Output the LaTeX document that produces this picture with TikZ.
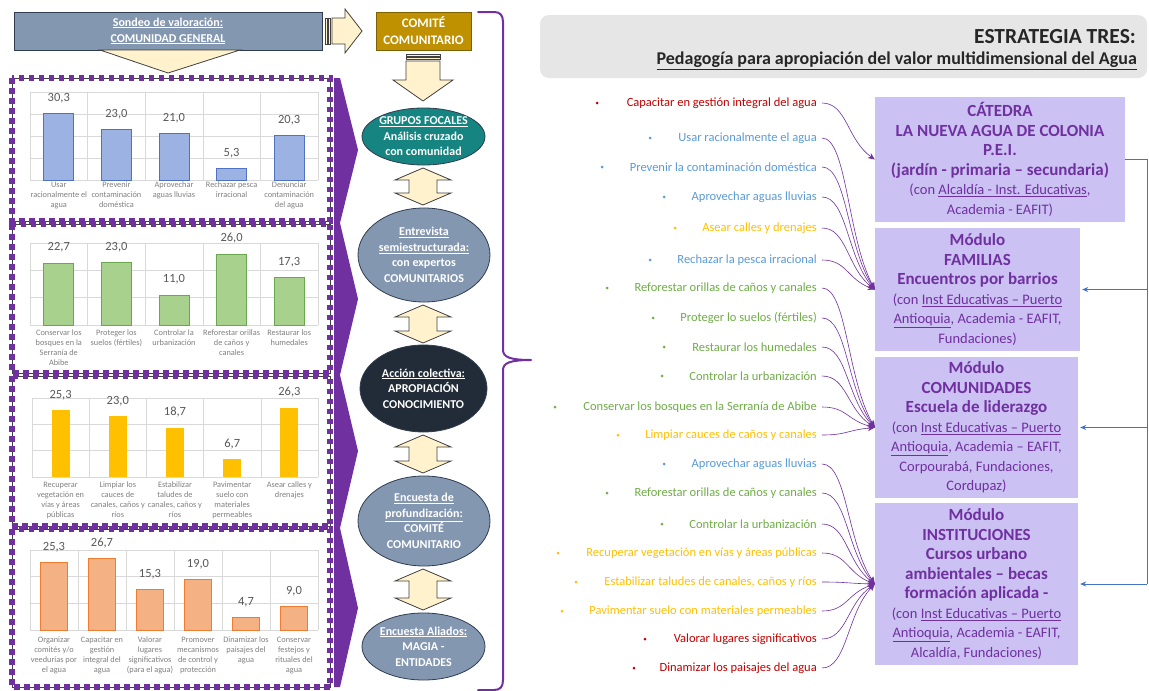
\documentclass[tikz,border=0pt]{standalone}
\usepackage{fontspec}
\setmainfont{Carlito}
\usetikzlibrary{arrows.meta,shapes.geometric,calc}
\definecolor{slate}{HTML}{8497B0}
\definecolor{slateline}{HTML}{2F3D50}
\definecolor{gold}{HTML}{BF9000}
\definecolor{goldline}{HTML}{7F6000}
\definecolor{tealc}{HTML}{168480}
\definecolor{navy}{HTML}{222B38}
\definecolor{cream}{HTML}{FFF2CC}
\definecolor{arrline}{HTML}{404040}
\definecolor{purp}{HTML}{7030A0}
\definecolor{lav}{HTML}{CBC1F3}
\definecolor{fbblue}{HTML}{4472C4}
\definecolor{cred}{HTML}{C00000}
\definecolor{cblue}{HTML}{5B9BD5}
\definecolor{cyel}{HTML}{FFC000}
\definecolor{cgreen}{HTML}{70AD47}
\definecolor{hdrgray}{HTML}{E6E6E6}
\definecolor{gridc}{HTML}{D9D9D9}
\definecolor{lblc}{HTML}{808080}
\definecolor{valc}{HTML}{595959}
\definecolor{bafill}{HTML}{9CB2E3}
\definecolor{baline}{HTML}{4F73BE}
\definecolor{bbfill}{HTML}{A9D18E}
\definecolor{bbline}{HTML}{6AA84F}
\definecolor{bcfill}{HTML}{FFC000}
\definecolor{bdfill}{HTML}{F4B183}
\definecolor{bdline}{HTML}{ED7D31}
\tikzset{
  gridl/.style={draw=gridc, line width=0.6pt},
  catlbl/.style={font=\fontsize{8.3}{10}\selectfont, text=lblc, align=center, anchor=north, inner sep=0pt},
  vallbl/.style={font=\fontsize{12.5}{14}\selectfont, text=valc, anchor=base, inner sep=0pt},
  panelline/.style={draw=arrline, line width=0.9pt},
  paneldash/.style={draw=purp, line width=5.5pt, dash pattern=on 5.5pt off 4.5pt},
  creamarrow/.style={fill=cream, draw=arrline, line width=0.8pt, line join=miter},
  ellbase/.style={ellipse, draw=slateline, line width=0.8pt, inner sep=0pt},
  elltxt/.style={font=\fontsize{12}{15.5}\selectfont\bfseries, text=white, align=center, inner sep=0pt},
  itemtxt/.style={font=\fontsize{12.5}{14}\selectfont, anchor=east, inner sep=0pt},
  bul/.style={circle, inner sep=0pt, minimum size=3pt},
  conn/.style={draw=purp, line width=0.6pt, -{Stealth[length=7pt,width=6pt]}},
  rbox/.style={rectangle, fill=lav, text=purp, align=center, inner sep=0pt, font=\fontsize{14.5}{19.5}\selectfont},
  fbline/.style={draw=fbblue, line width=0.8pt},
  fbarrow/.style={draw=fbblue, line width=0.8pt, shorten >=2pt, -{Stealth[length=6pt,width=5pt]}},
}
\newcommand\BB[1]{{\fontsize{17}{19.5}\selectfont\bfseries #1}}
\newcommand\RR[1]{{\fontsize{14.5}{19.5}\selectfont #1}}
\newcommand\UDarr[3]{%
  \draw[creamarrow] ({#1-28},{#2+12}) -- (#1,#2) -- ({#1+28},{#2+12}) -- ({#1+14},{#2+12})
   -- ({#1+14},{#3-12}) -- ({#1+28},{#3-12}) -- (#1,#3) -- ({#1-28},{#3-12}) -- ({#1-14},{#3-12})
   -- ({#1-14},{#2+12}) -- cycle;}
\begin{document}
\begin{tikzpicture}[x=1pt,y=-1pt]
\useasboundingbox (0,0) rectangle (1149,691);
\fill[white] (0,0) rectangle (1149,691);

% ---------- top-left header ----------
\node[rectangle, fill=slate, draw=slateline, line width=0.8pt, minimum width=308pt, minimum height=38pt,
      text=white, align=center, font=\fontsize{12}{16}\selectfont\bfseries] (sondeo) at (168,31)
      {\underline{Sondeo de valoración:}\\\underline{COMUNIDAD GENERAL}};
\node[rectangle, fill=gold, draw=goldline, line width=0.8pt, minimum width=95pt, minimum height=38pt,
      text=white, align=center, font=\fontsize{13}{17}\selectfont\bfseries] (comite) at (423.5,31)
      {COMITÉ\\COMUNITARIO};
% striped right arrow
\draw[creamarrow] (325,18) rectangle (327,44);
\draw[creamarrow] (328.5,18) rectangle (330.5,44);
\draw[creamarrow] (332,18) -- (345,18) -- (345,9) -- (362,31) -- (345,53) -- (345,44) -- (332,44) -- cycle;
% funnel triangle
\draw[creamarrow] (100,50) -- (240,50) -- (168,73) -- cycle;
% striped down arrow
\draw[creamarrow] (406,54) rectangle (440,56);
\draw[creamarrow] (406,57.5) rectangle (440,59.5);
\draw[creamarrow] (406,61) -- (440,61) -- (440,80) -- (453,80) -- (423,101) -- (393,80) -- (406,80) -- cycle;

% ---------- chevron band ----------
\fill[purp] (334,78) -- (340,78) -- (358,150) -- (340,223) -- (358,299) -- (340,375) -- (358,451)
  -- (340,528) -- (358,608) -- (340,687) -- (334,687) -- cycle;

% ---------- panel 1 ----------
\foreach \k in {0,...,4} \draw[gridl] (30,{180-22*\k}) -- (318,{180-22*\k});
\foreach \k in {0,...,5} \draw[gridl] ({30+57.6*\k},92) -- ({30+57.6*\k},180);
\foreach \vv/\vt/\lb [count=\n] in {30.3/{30,3}/{Usar\\racionalmente el\\agua},
   23.0/{23,0}/{Prevenir\\contaminación\\doméstica},
   21.0/{21,0}/{Aprovechar\\aguas lluvias},
   5.3/{5,3}/{Rechazar pesca\\irracional},
   20.3/{20,3}/{Denunciar\\contaminación\\del agua}} {
  \pgfmathsetmacro\cx{30+57.6*(\n-0.5)}
  \pgfmathsetmacro\ty{180-2.2*\vv}
  \draw[fill=bafill, draw=baline, line width=0.8pt] ({\cx-15},180) rectangle ({\cx+15},\ty);
  \node[vallbl] (pav\n) at (\cx,{\ty-12}) {\vt};
  \node[catlbl] (pac\n) at (\cx,182) {\lb};
}
% ---------- panel 2 ----------
\foreach \k in {0,...,3} \draw[gridl] (30,{325-27.33*\k}) -- (318,{325-27.33*\k});
\foreach \k in {0,...,5} \draw[gridl] ({30+57.6*\k},243) -- ({30+57.6*\k},325);
\foreach \vv/\vt/\lb [count=\n] in {22.7/{22,7}/{Conservar los\\bosques en la\\Serranía de\\Abibe},
   23.0/{23,0}/{Proteger los\\suelos (fértiles)},
   11.0/{11,0}/{Controlar la\\urbanización},
   26.0/{26,0}/{Reforestar orillas\\de caños y\\canales},
   17.3/{17,3}/{Restaurar los\\humedales}} {
  \pgfmathsetmacro\cx{30+57.6*(\n-0.5)}
  \pgfmathsetmacro\ty{325-2.733*\vv}
  \draw[fill=bbfill, draw=bbline, line width=0.8pt] ({\cx-15},325) rectangle ({\cx+15},\ty);
  \node[vallbl] (pbv\n) at (\cx,{\ty-12}) {\vt};
  \node[catlbl] (pbc\n) at (\cx,330) {\lb};
}
% ---------- panel 3 ----------
\foreach \k in {0,...,3} \draw[gridl] (32,{477-26.33*\k}) -- (318,{477-26.33*\k});
\foreach \k in {0,...,5} \draw[gridl] ({32+57.2*\k},398) -- ({32+57.2*\k},477);
\foreach \vv/\vt/\lb [count=\n] in {25.3/{25,3}/{Recuperar\\vegetación en\\vías y áreas\\públicas},
   23.0/{23,0}/{Limpiar los\\cauces de\\canales, caños y\\ríos},
   18.7/{18,7}/{Estabilizar\\taludes de\\canales, caños y\\ríos},
   6.7/{6,7}/{Pavimentar\\suelo con\\materiales\\permeables},
   26.3/{26,3}/{Asear calles y\\drenajes}} {
  \pgfmathsetmacro\cx{32+57.2*(\n-0.5)}
  \pgfmathsetmacro\ty{477-2.633*\vv}
  \fill[bcfill] ({\cx-9},477) rectangle ({\cx+9},\ty);
  \node[vallbl] (pcv\n) at (\cx,{\ty-12}) {\vt};
  \node[catlbl] (pcc\n) at (\cx,482) {\lb};
}
% ---------- panel 4 ----------
\foreach \k in {0,...,3} \draw[gridl] (30,{630-26.67*\k}) -- (318,{630-26.67*\k});
\foreach \k in {0,...,6} \draw[gridl] ({30+48*\k},550) -- ({30+48*\k},630);
\foreach \vv/\vt/\lb [count=\n] in {25.3/{25,3}/{Organizar\\comités y/o\\veedurías por\\el agua},
   26.7/{26,7}/{Capacitar en\\gestión\\integral del\\agua},
   15.3/{15,3}/{Valorar\\lugares\\significativos\\(para el agua)},
   19.0/{19,0}/{Promover\\mecanismos\\de control y\\protección},
   4.7/{4,7}/{Dinamizar los\\paisajes del\\agua},
   9.0/{9,0}/{Conservar\\festejos y\\rituales del\\agua}} {
  \pgfmathsetmacro\cx{30+48*(\n-0.5)}
  \pgfmathsetmacro\ty{630-2.667*\vv}
  \draw[fill=bdfill, draw=bdline, line width=0.8pt] ({\cx-13.5},630) rectangle ({\cx+13.5},\ty);
  \node[vallbl] (pdv\n) at (\cx,{\ty-12}) {\vt};
  \node[catlbl] (pdc\n) at (\cx,637) {\lb};
}
% ---------- panel borders ----------
\foreach \ya/\yb in {78/221, 224/373, 376/526, 529/687} {
  \draw[panelline] (12,\ya) rectangle (330,\yb);
  \draw[paneldash] (12,\ya) rectangle (330,\yb);
}

% ---------- middle column ----------
\node[ellbase, fill=tealc, minimum width=123pt, minimum height=57pt] (gf) at (423.5,136.5) {};
\node[elltxt] (gfT) at (gf.center) {\underline{GRUPOS FOCALES}\\Análisis cruzado\\con comunidad};
\node[ellbase, fill=slate, minimum width=132pt, minimum height=94pt] (ent) at (424,255) {};
\node[elltxt] (entT) at (ent.center) {\underline{Entrevista}\\\underline{semiestructurada:}\\con expertos\\COMUNITARIOS};
\node[ellbase, fill=navy, minimum width=127pt, minimum height=87pt] (acc) at (423.5,388.5) {};
\node[elltxt] (accT) at (acc.center) {\underline{Acción colectiva:}\\APROPIACIÓN\\CONOCIMIENTO};
\node[ellbase, fill=slate, minimum width=132pt, minimum height=90pt] (enc) at (424,521) {};
\node[elltxt] (encT) at (enc.center) {\underline{Encuesta de}\\\underline{profundización:}\\COMITÉ\\COMUNITARIO};
\node[ellbase, fill=slate, minimum width=123pt, minimum height=67pt] (ali) at (423.5,646.5) {};
\node[elltxt] (aliT) at (ali.center) {\underline{Encuesta Aliados:}\\MAGIA -\\ENTIDADES};
\UDarr{423}{168}{205}
\UDarr{423}{305}{343}
\UDarr{423}{435}{473}
\UDarr{423}{569}{610}

% ---------- brace ----------
\draw[purp, line width=2pt, line join=round, line cap=round]
  (478,12) -- (494,12) .. controls (500,12) and (503,15) .. (503,22) -- (503,350)
  .. controls (503,357) and (510,360) .. (531,360) .. controls (510,360) and (503,363) .. (503,370)
  -- (503,680) .. controls (503,687) and (500,690) .. (494,690) -- (478,690);

% ---------- right header ----------
\node[rectangle, rounded corners=9pt, fill=hdrgray, minimum width=607pt, minimum height=63pt] (hdr) at (843.5,46.5) {};
\node[anchor=east, inner sep=0pt, font=\fontsize{21.5}{24}\selectfont\bfseries, text=black!85] (t1) at (1136,37) {ESTRATEGIA TRES:};
\node[anchor=east, inner sep=0pt, font=\fontsize{18}{20}\selectfont\bfseries, text=black!85] (t2) at (1137,61)
  {\underline{Pedagogía para apropiación del valor multidimensional del Agua}};

% ---------- right boxes ----------
\node[rbox, minimum width=250pt, minimum height=125pt] (cat) at (1000,159.5)
 {\BB{CÁTEDRA}\\\BB{LA NUEVA AGUA DE COLONIA}\\\BB{P.E.I.}\\\BB{(jardín - primaria – secundaria)}\\
  \RR{(con \underline{Alcaldía - Inst. Educativas},}\\\RR{Academia - EAFIT)}};
\node[rbox, minimum width=205pt, minimum height=123pt] (fam) at (977.5,289.5)
 {\BB{Módulo}\\\BB{FAMILIAS}\\\BB{Encuentros por barrios}\\
  \RR{(con \underline{Inst Educativas – Puerto}}\\\RR{\underline{Antioquia}, Academia - EAFIT,}\\\RR{Fundaciones)}};
\node[rbox, minimum width=203pt, minimum height=141pt] (com) at (976.5,427.5)
 {\BB{Módulo}\\\BB{COMUNIDADES}\\\BB{Escuela de liderazgo}\\
  \RR{(con \underline{Inst Educativas – Puerto}}\\\RR{\underline{Antioquia}, Academia – EAFIT,}\\\RR{Corpourabá, Fundaciones,}\\\RR{Cordupaz)}};
\node[rbox, minimum width=203pt, minimum height=162pt] (ins) at (976.5,584)
 {\BB{Módulo}\\\BB{INSTITUCIONES}\\\BB{Cursos urbano}\\\BB{ambientales – becas}\\\BB{formación aplicada -}\\
  \RR{(con \underline{Inst Educativas – Puerto}}\\\RR{\underline{Antioquia}, Academia - EAFIT,}\\\RR{Alcaldía, Fundaciones)}};

% ---------- feedback line ----------
\coordinate (fbx) at (1147,0);
\draw[fbline] (cat.east) -- (cat.east -| fbx) -- (fbx |- ins.east);
\draw[fbarrow] (fbx |- fam.east) -- (fam.east);
\draw[fbarrow] (fbx |- com.east) -- (com.east);
\draw[fbarrow] (fbx |- ins.east) -- (ins.east);

% ---------- right list ----------
\foreach \yy/\bx/\cc/\tx [count=\q] in {
  103/597/cred/{Capacitar en gestión integral del agua},
  138/650/cblue/{Usar racionalmente el agua},
  167/602/cblue/{Prevenir la contaminación doméstica},
  197/664/cblue/{Aprovechar aguas lluvias},
  228/675/cyel/{Asear calles y drenajes},
  260/650/cblue/{Rechazar la pesca irracional},
  288/607/cgreen/{Reforestar orillas de caños y canales},
  318/653/cgreen/{Proteger lo suelos (fértiles)},
  347/664/cgreen/{Restaurar los humedales},
  376/662/cgreen/{Controlar la urbanización},
  407/555/cgreen/{Conservar los bosques en la Serranía de Abibe},
  435/618/cyel/{Limpiar cauces de caños y canales},
  464/664/cblue/{Aprovechar aguas lluvias},
  493/607/cgreen/{Reforestar orillas de caños y canales},
  524/662/cgreen/{Controlar la urbanización},
  553/558/cyel/{Recuperar vegetación en vías y áreas públicas},
  582/576/cyel/{Estabilizar taludes de canales, caños y ríos},
  611/562/cyel/{Pavimentar suelo con materiales permeables},
  639/645/cred/{Valorar lugares significativos},
  668/634/cred/{Dinamizar los paisajes del agua}} {
  \node[itemtxt, text=\cc] (i\q) at (817,\yy) {\tx};
  \node[bul, fill=\cc] (b\q) at (\bx,\yy) {};
}
\foreach \q/\tg in {1/cat,2/fam,3/fam,4/fam,5/fam,6/fam,7/com,8/com,9/com,10/com,11/com,12/com,
   13/ins,14/ins,15/ins,16/ins,17/ins,18/ins,19/ins,20/ins} {
  \draw[conn] let \p1=(i\q.east), \p2=(\tg.west) in
    (\x1+5pt,\y1) .. controls (\x1+30pt,\y1) and (\x2-28pt,{\y2+0.35*((\y1)-(\y2))}) .. (\p2);
}
\end{tikzpicture}
\end{document}
